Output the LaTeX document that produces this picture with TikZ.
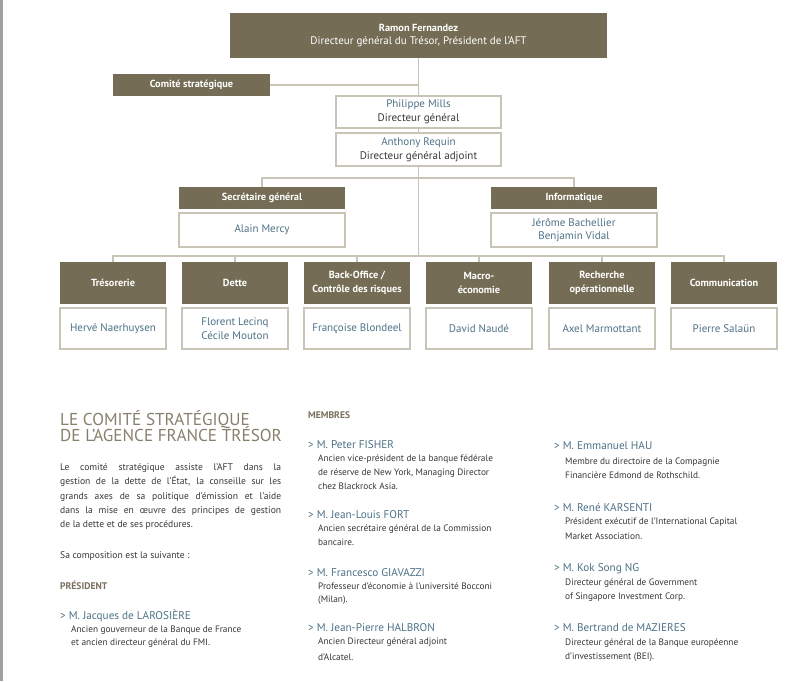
\documentclass[tikz,border=0pt]{standalone}
\usepackage{fontspec}
\setmainfont{PT Sans}
\definecolor{dk}{RGB}{116,108,84}
\definecolor{ln}{RGB}{200,196,182}
\definecolor{nm}{RGB}{78,114,135}
\definecolor{bt}{RGB}{55,55,55}
\definecolor{ttl}{RGB}{135,128,108}
\definecolor{hd}{RGB}{120,112,92}
\definecolor{strip}{RGB}{160,160,160}
\begin{document}
\begin{tikzpicture}[x=1pt,y=-1pt,
  dbox/.style={fill=dk,text=white,inner sep=0pt,align=center,font=\bfseries\fontsize{10.3}{13.5}\selectfont},
  wbox/.style={fill=white,draw=ln,line width=1.3pt,inner sep=0pt,align=center,text=nm,font=\fontsize{11}{13.5}\selectfont},
  conn/.style={draw=ln,line width=1.2pt},
  pstyle/.style={anchor=base west,inner sep=0pt,text=bt,font=\fontsize{9.6}{11}\selectfont},
  dstyle/.style={anchor=base west,inner sep=0pt,text=bt,font=\fontsize{9.3}{11}\selectfont},
  nmstyle/.style={anchor=base west,inner sep=0pt,text=nm,font=\fontsize{11.2}{13}\selectfont},
  hstyle/.style={anchor=base west,inner sep=0pt,text=hd,font=\bfseries\fontsize{9.6}{11}\selectfont},
  ttlstyle/.style={anchor=base west,inner sep=0pt,text=ttl,font=\fontsize{17.2}{19}\selectfont}
]
\useasboundingbox (0,0) rectangle (809,681);
\fill[white] (0,0) rectangle (809,681);
\fill[strip] (0,0) rectangle (3,681);

% ---- chart boxes
\node[dbox,minimum width=377pt,minimum height=45pt] (top) at (418.5,35.5) {Ramon Fernandez\\{\mdseries\fontsize{11}{13.5}\selectfont Directeur général du Trésor, Président de l'AFT}};
\node[dbox,minimum width=157pt,minimum height=22pt] (com) at (191.5,85) {Comité stratégique};
\node[wbox,minimum width=165pt,minimum height=32pt] (phil) at (418.5,112) {Philippe Mills\\\textcolor{bt}{Directeur général}};
\node[wbox,minimum width=165pt,minimum height=33pt] (anth) at (418.5,149.5) {Anthony Requin\\\textcolor{bt}{Directeur général adjoint}};
\node[dbox,minimum width=166pt,minimum height=22pt] (secg) at (262,198) {Secrétaire général};
\node[wbox,minimum width=166pt,minimum height=34pt] (alain) at (262,230) {Alain Mercy};
\node[dbox,minimum width=166pt,minimum height=22pt] (info) at (574,198) {Informatique};
\node[wbox,minimum width=166pt,minimum height=34pt] (jer) at (574,230) {Jérôme Bachellier\\Benjamin Vidal};

\foreach \i/\x/\ti/\nn in {1/113/Trésorerie/Hervé Naerhuysen,
  2/235/Dette/{Florent Lecinq\\Cécile Mouton},
  3/357/{Back-Office /\\Contrôle des risques}/Françoise Blondeel,
  4/479/{Macro-\\économie}/David Naudé,
  5/602/{Recherche\\opérationnelle}/Axel Marmottant,
  6/724/Communication/Pierre Salaün}{
  \node[dbox,minimum width=106pt,minimum height=42pt] (b\i) at (\x,283) {\ti};
  \node[wbox,minimum width=106pt,minimum height=41pt] (w\i) at (\x,328.5) {\nn};
}

% ---- connectors
\coordinate (j1) at (418.5,85);
\coordinate (j2) at (418.5,256);
\coordinate (h1l) at (262,178);
\coordinate (h1r) at (574,178);
\draw[conn] (top.south) -- (phil.north);
\draw[conn] (com.east) -- (j1);
\draw[conn] (phil.south) -- (anth.north);
\draw[conn] (anth.south) -- (j2);
\draw[conn] (secg.north) -- (h1l) -- (h1r) -- (info.north);
\draw[conn] (b1.north) -- (b1.north |- j2) -- (b6.north |- j2) -- (b6.north);
\foreach \i in {2,3,4,5}{\draw[conn] (b\i.north) -- (b\i.north |- j2);}

% ---- left column
\node[ttlstyle] (t1) at (60,425) {LE COMITÉ STRATÉGIQUE};
\node[ttlstyle] (t2) at (60,441) {DE L'AGENCE FRANCE TRÉSOR};
\node[pstyle] (p1) at (60,470.5) {\makebox[221pt][s]{Le comité stratégique assiste l'AFT dans la}};
\node[pstyle] (p2) at (60,484.8) {\makebox[221pt][s]{gestion de la dette de l'État, la conseille sur les}};
\node[pstyle] (p3) at (60,499.1) {\makebox[221pt][s]{grands axes de sa politique d'émission et l'aide}};
\node[pstyle] (p4) at (60,513.4) {\makebox[221pt][s]{dans la mise en œuvre des principes de gestion}};
\node[pstyle] (p5) at (60,527.7) {de la dette et de ses procédures.};
\node[pstyle] (p6) at (60,558.5) {Sa composition est la suivante :};
\node[hstyle] (pres) at (60,589) {PRÉSIDENT};
\node[nmstyle] (n0) at (60,619) {> M. Jacques de LAROSIÈRE};
\node[dstyle] (d0a) at (71,632.5) {Ancien gouverneur de la Banque de France};
\node[dstyle] (d0b) at (71,645.5) {et ancien directeur général du FMI.};

% ---- middle column
\node[hstyle] (memb) at (308,418) {MEMBRES};
\node[nmstyle] (n1) at (308,448) {> M. Peter FISHER};
\node[dstyle] (d1a) at (318,461.5) {Ancien vice-président de la banque fédérale};
\node[dstyle] (d1b) at (318,475.5) {de réserve de New York, Managing Director};
\node[dstyle] (d1c) at (318,489) {chez Blackrock Asia.};
\node[nmstyle] (n2) at (308,518) {> M. Jean-Louis FORT};
\node[dstyle] (d2a) at (318,531.5) {Ancien secrétaire général de la Commission};
\node[dstyle] (d2b) at (318,545) {bancaire.};
\node[nmstyle] (n3) at (308,576) {> M. Francesco GIAVAZZI};
\node[dstyle] (d3a) at (318,589) {Professeur d'économie à l'université Bocconi};
\node[dstyle] (d3b) at (318,602.5) {(Milan).};
\node[nmstyle] (n4) at (308,631) {> M. Jean-Pierre HALBRON};
\node[dstyle] (d4a) at (318,644.5) {Ancien Directeur général adjoint};
\node[dstyle] (d4b) at (318,660) {d'Alcatel.};

% ---- right column
\node[nmstyle] (n5) at (554,449) {> M. Emmanuel HAU};
\node[dstyle] (d5a) at (565,464.5) {Membre du directoire de la Compagnie};
\node[dstyle] (d5b) at (565,478.5) {Financière Edmond de Rothschild.};
\node[nmstyle] (n6) at (554,511) {> M. René KARSENTI};
\node[dstyle] (d6a) at (565,524.5) {Président exécutif de l'International Capital};
\node[dstyle] (d6b) at (565,539.5) {Market Association.};
\node[nmstyle] (n7) at (554,571) {> M. Kok Song NG};
\node[dstyle] (d7a) at (565,585.5) {Directeur général de Government};
\node[dstyle] (d7b) at (565,599.5) {of Singapore Investment Corp.};
\node[nmstyle] (n8) at (554,631) {> M. Bertrand de MAZIERES};
\node[dstyle] (d8a) at (565,645.5) {Directeur général de la Banque européenne};
\node[dstyle] (d8b) at (565,659.5) {d'investissement (BEI).};
\end{tikzpicture}
\end{document}
